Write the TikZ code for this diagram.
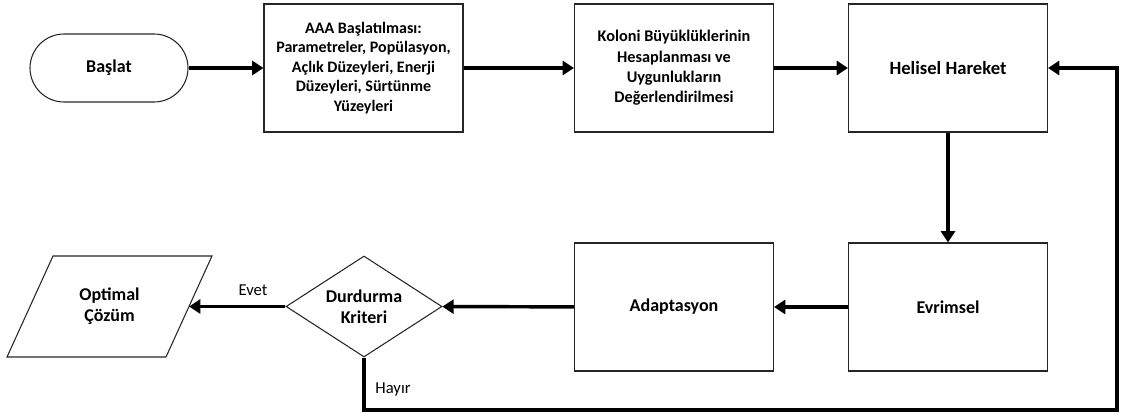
\documentclass[tikz,border=0pt]{standalone}
\usepackage{fontspec}
\setmainfont{Carlito}
\usetikzlibrary{arrows.meta,shapes.geometric}
\begin{document}
\begin{tikzpicture}[x=0.75pt,y=-0.75pt,
  box/.style={draw=black!85,line width=0.8pt,minimum width=149.25pt,minimum height=96pt,
    inner sep=2pt,align=center,font=\fontsize{13.5}{16}\selectfont\bfseries},
  term/.style={draw=black!85,line width=0.8pt,rounded corners=25.5pt,minimum width=118.5pt,
    minimum height=51pt,align=center,font=\fontsize{13.5}{16}\selectfont\bfseries},
  decision/.style={draw=black!85,line width=0.8pt,diamond,inner sep=0pt,
    minimum width=117pt,minimum height=75.75pt},
  btext/.style={align=center,font=\fontsize{13.5}{16}\selectfont\bfseries},
  lbl/.style={font=\fontsize{12.5}{14}\selectfont},
  arr/.style={line width=2.6pt,-{Triangle[length=8.5pt,width=10.5pt]}}]
\useasboundingbox (0,0) rectangle (1121,417);

% upper row
\node[term] (start) at (109,68) {Başlat};
\node[box,font=\fontsize{12}{14.6}\selectfont\bfseries] (init) at (363.5,68)
  {AAA Başlatılması:\\Parametreler, Popülasyon,\\Açlık Düzeyleri, Enerji\\Düzeyleri, Sürtünme\\Yüzeyleri};
\node[box,font=\fontsize{12.2}{15.2}\selectfont\bfseries] (size) at (674,68)
  {Koloni Büyüklüklerinin\\Hesaplanması ve\\Uygunlukların\\Değerlendirilmesi};
\node[box,font=\fontsize{14}{16}\selectfont\bfseries] (hel) at (948,68) {Helisel Hareket};

% lower row
\node[box] (evo) at (948,307) {Evrimsel};
\node[box] (ada) at (674,307) {Adaptasyon};
\node[decision] (dec) at (364,306.5) {};
\node[btext] (dectext) at (dec.center) {Durdurma\\Kriteri};

% output parallelogram
\draw[draw=black!85,line width=0.8pt] (53,256) -- (212,256) -- (166,357) -- (7,357) -- cycle;
\node[btext] (opt) at (109.5,306.5) {Optimal\\Çözüm};
\coordinate (optR) at (189,306.5);

% flow
\draw[arr] (start) -- (init);
\draw[arr] (init) -- (size);
\draw[arr] (size) -- (hel);
\draw[arr] (hel) -- (evo);
\draw[arr] (evo) -- (ada);
\draw[arr] (ada) -- (dec);
\draw[arr] (dec.west) -- (optR);
\coordinate (loopc) at (1117,410);
\draw[arr] (dec.south) |- (loopc) |- (hel.east);

\node[lbl] (yes) at (253,290) {Evet};
\node[lbl] (no) at (393,389) {Hayır};
\end{tikzpicture}
\end{document}
